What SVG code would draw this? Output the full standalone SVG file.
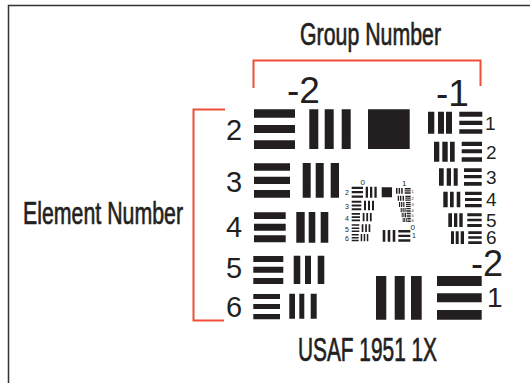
<svg xmlns="http://www.w3.org/2000/svg" width="530" height="383" viewBox="0 0 530 383">
<style>
text{font-family:"Liberation Sans",Arial,sans-serif;fill:#231f20}
.t{stroke:#231f20;stroke-width:.7}
.b{fill:#231f20}
.r{fill:none;stroke:#f04e37;stroke-width:2}
</style>
<rect width="530" height="383" fill="#fff"/>
<path d="M8.500 383V5.500H530" fill="none" stroke="#333" stroke-width="1.5"/>
<g id="brackets">
<path class="r" d="M253.500 88V60.500H480.500V86"/>
<path class="r" d="M225 109.500H193.500V320.500H224"/>
</g>
<g id="titles">
<text class="t" x="300" y="45" font-size="32" textLength="141" lengthAdjust="spacingAndGlyphs">Group Number</text>
<text class="t" x="23" y="223.500" font-size="32" textLength="160" lengthAdjust="spacingAndGlyphs">Element Number</text>
<text class="t" x="298" y="360.500" font-size="33" textLength="139" lengthAdjust="spacingAndGlyphs">USAF 1951 1X</text>
</g>
<g id="group-minus2">
<path class="b" d="M254 109.300h41v8.400h-41zM254 125h41v8h-41zM254 140.300h41v8.700h-41zM309.300 109.300h9v39.700h-9zM324.700 109.300h9v39.700h-9zM341.700 109.300h9v39.700h-9zM368 109.300h41.700v39.700h-41.700z"/>
<path class="b" d="M254 163.300h36v7.400h-36zM254 176.700h36v7.300h-36zM254 190h36v7.700h-36zM302.700 163h8v34.700h-8zM315.700 163h8v34.700h-8zM330.700 163h8.300v34.700h-8.300z"/>
<path class="b" d="M254 212.300h31.700v6.700h-31.700zM254 223.700h31.700v7h-31.700zM254 235.300h31.700v7h-31.700zM296.300 212h8.400v30.700h-8.400zM308.700 212h6.600v30.700h-6.600zM320.700 212h7.600v30.700h-7.600z"/>
<path class="b" d="M253.300 256h30v6h-30zM253.300 266.700h30v6h-30zM253.300 278h30v6h-30zM293.700 255.700h6.600v28.300h-6.600zM305 255.700h6v28.300h-6zM317.700 255.700h6.600v28.300h-6.600z"/>
<path class="b" d="M253.300 294h26.700v5h-26.700zM253.300 304h26.700v5h-26.700zM253.300 314h26.700v5.300h-26.700zM289.300 293.700h5.700v25h-5.700zM299.300 293.700h5v25h-5zM310.700 293.700h6v25h-6z"/>
<path class="b" d="M376 276h10.300v43.700h-10.300zM394.700 276h10v43.700h-10zM411 276h10.700v43.700h-10.700zM437 276h44.700v10h-44.700zM437 293.300h44.700v9h-44.700zM437 310h44.700v9.700h-44.700z"/>
<text x="287" y="103" font-size="37">-2</text>
<text x="226" y="140" font-size="29">2</text>
<text x="226" y="191.700" font-size="29">3</text>
<text x="226" y="236.700" font-size="29">4</text>
<text x="226" y="278" font-size="29">5</text>
<text x="226" y="316.700" font-size="29">6</text>
<text x="471" y="275.500" font-size="36">-2</text>
<text x="487" y="306.700" font-size="28">1</text>
</g>
<g id="group-minus1">
<path class="b" d="M428 111.700h6.300v22h-6.300zM438 111.700h6v22h-6zM446 111.700h6v22h-6zM459.300 111.700h23v5h-23zM459.300 120.700h23v4.300h-23zM459.300 129.300h23v4.400h-23z"/>
<path class="b" d="M434 141.700h5.300v20h-5.300zM442.300 141.700h5.400v20h-5.400zM450 141.700h4.700v20h-4.700zM461.700 141.700h20.300v4.300h-20.300zM461.700 149.300h20.300v4h-20.300zM461.700 157.300h20.300v4.400h-20.300z"/>
<path class="b" d="M439 168.300h4.700v17.400h-4.700zM446.700 168.300h4.300v17.400h-4.300zM453.700 168.300h4v17.400h-4zM464 168.300h17.700v3.700h-17.700zM464 175h17.700v3.300h-17.700zM464 182h17.700v3.700h-17.700z"/>
<path class="b" d="M443.300 191.700h4.400v15.600h-4.400zM450 191.700h3.700v15.600h-3.700zM456.700 191.700h3.600v15.600h-3.600zM465 191.700h16.700v3.300h-16.700zM465 198h16.700v3h-16.700zM465 204h16.700v3.300h-16.700z"/>
<path class="b" d="M448.300 213.300h3.700v13.700h-3.700zM454 213.300h3.300v13.700h-3.300zM459.300 213.300h3.400v13.700h-3.400zM467.300 213.300h14.400v3h-14.400zM467.300 218.700h14.400v2.600h-14.400zM467.300 224h14.400v3h-14.400z"/>
<path class="b" d="M451 231.300h3v12.700h-3zM455.700 231.300h3v12.700h-3zM460.700 231.300h3.300v12.700h-3.300zM468.300 231.300h13.400v2.700h-13.400zM468.300 236.300h13.400v2.400h-13.400zM468.300 241.300h13.400v2.700h-13.400z"/>
<text x="436" y="105.500" font-size="37">-1</text>
<text x="485" y="130" font-size="19">1</text>
<text x="486" y="158.500" font-size="19">2</text>
<text x="486" y="183.500" font-size="19">3</text>
<text x="486" y="206" font-size="19">4</text>
<text x="486" y="226.700" font-size="19">5</text>
<text x="486" y="244" font-size="19">6</text>
</g>
<g id="group-0">
<path class="b" d="M351.700 186.700h11.300v2.300h-11.300zM351.700 191h11.300v2.300h-11.300zM351.700 195.400h11.300v2.300h-11.300zM365.700 186.700h2.300v11h-2.300zM370 186.700h2.300v11h-2.300zM374.400 186.700h2.300v11h-2.300zM381.700 187.300h10.300v10h-10.300z"/>
<path class="b" d="M351.700 200.700h9.600v2h-9.600zM351.700 204.500h9.600v2h-9.600zM351.700 208.300h9.600v2h-9.600zM364 200.700h2v9.600h-2zM368 200.700h2v9.600h-2zM372 200.700h2v9.600h-2z"/>
<path class="b" d="M351.700 213h8.300v1.700h-8.300zM351.700 216.300h8.300v1.700h-8.300zM351.700 219.600h8.300v1.700h-8.300zM362.700 213h1.800v8.300h-1.800zM366.300 213h1.800v8.300h-1.800zM369.900 213h1.800v8.300h-1.800z"/>
<path class="b" d="M351.700 224.300h7.600v1.500h-7.600zM351.700 227.400h7.600v1.500h-7.600zM351.700 230.500h7.600v1.500h-7.600zM361.700 224.300h1.700v7.700h-1.700zM365.200 224.300h1.700v7.700h-1.700zM368.600 224.300h1.700v7.700h-1.700z"/>
<path class="b" d="M351.700 234h7v1.500h-7zM351.700 236.900h7v1.500h-7zM351.700 239.800h7v1.500h-7zM360.700 234h1.500v7.300h-1.500zM363.700 234h1.500v7.300h-1.500zM366.800 234h1.500v7.300h-1.500z"/>
<path class="b" d="M382.700 230h2.600v11.700h-2.600zM387.700 230h2.600v11.700h-2.600zM392.700 230h2.600v11.700h-2.600zM398.300 230h12v2.400h-12zM398.300 234.700h12v2.400h-12zM398.300 239.300h12v2.400h-12z"/>
<text x="360.500" y="185.300" font-size="8">0</text>
<text x="345" y="195.300" font-size="7">2</text>
<text x="345" y="208.700" font-size="7">3</text>
<text x="345" y="221" font-size="7">4</text>
<text x="345" y="231.500" font-size="7">5</text>
<text x="345" y="240.500" font-size="7">6</text>
<text x="410.500" y="229.500" font-size="8">0</text>
<text x="412" y="238" font-size="7">1</text>
</g>
<g id="group-1">
<path class="b" d="M396 188h1.500v5.700h-1.500zM398.600 188h1.500v5.700h-1.500zM401.200 188h1.500v5.700h-1.500zM404.700 188h6v1.500h-6zM404.700 190.200h6v1.300h-6zM404.700 192.300h6v1.400h-6z"/>
<path class="b" d="M397.700 195.700h1.400v5h-1.400zM400 195.700h1.400v5h-1.400zM402.600 195.700h1.400v5h-1.400zM405.300 195.700h5.400v1.200h-5.400zM405.300 197.600h5.400v1.200h-5.400zM405.300 199.500h5.400v1.200h-5.400z"/>
<path class="b" d="M399 202h1.200v5h-1.200zM401.100 202h1.200v5h-1.200zM403.200 202h1.200v5h-1.200zM406 202h4.700v1.200h-4.700zM406 203.900h4.700v1.200h-4.700zM406 205.800h4.700v1.200h-4.700z"/>
<path class="b" d="M400.700 208h1.100v4.300h-1.100zM402.600 208h1.100v4.300h-1.100zM404.500 208h1.100v4.300h-1.100zM406.300 208h4.400v1h-4.400zM406.300 209.700h4.400v1h-4.400zM406.300 211.300h4.400v1h-4.400z"/>
<path class="b" d="M401.700 213h1v4.300h-1zM403.400 213h1v4.300h-1zM405 213h1v4.300h-1zM406.700 213h4v1h-4zM406.700 214.700h4v1h-4zM406.700 216.300h4v1h-4z"/>
<path class="b" d="M402.700 218h.9v4h-.9zM404.200 218h.9v4h-.9zM405.800 218h.9v4h-.9zM407.300 218h3.400v.9h-3.400zM407.300 219.500h3.400v.9h-3.400zM407.300 221.100h3.400v.9h-3.400z"/>
<text x="402" y="186" font-size="8">1</text>
<text x="411.500" y="192.500" font-size="4">1</text>
<text x="411.500" y="199.500" font-size="4">2</text>
<text x="411.500" y="206" font-size="4">3</text>
<text x="411.500" y="211.500" font-size="4">4</text>
<text x="411.500" y="216.500" font-size="4">5</text>
<text x="411.500" y="221.500" font-size="4">6</text>
</g>
</svg>
